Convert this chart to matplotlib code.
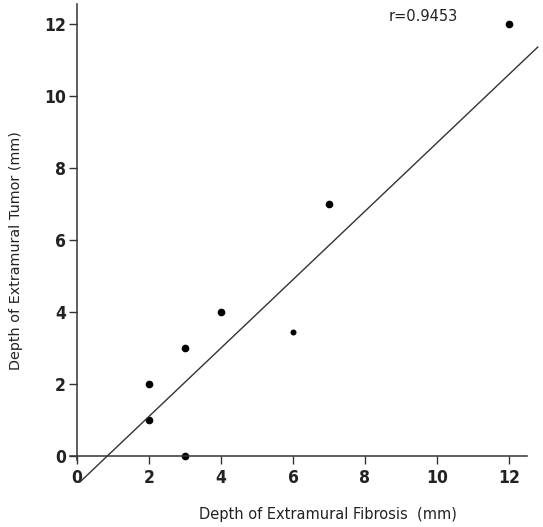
import numpy as np
import matplotlib
matplotlib.use("Agg")
import matplotlib.pyplot as plt
from matplotlib import font_manager

# data
fibrosis = [2, 2, 3, 3, 4, 7, 12]
tumor = [2, 1, 3, 0, 4, 7, 12]
# one point drawn smaller
fibrosis_small = [6]
tumor_small = [3.45]
# fitted line as drawn
fit_slope = 0.95
fit_intercept = -0.8
fit_x_range = [0.08, 12.8]
r_text = "r=0.9453"
ticks = [0, 2, 4, 6, 8, 10, 12]

names = {f.name for f in font_manager.fontManager.ttflist}

fig = plt.figure(figsize=(5.43, 5.27), dpi=100)
W, H = 543, 527
px = 36.0  # pixels per data unit
x0, y0 = 77, 456  # pixel position of data origin
xlim = (-0.3, 12.9)
ylim = (-0.9, 12.6)
left = (x0 + px * xlim[0]) / W
width = px * (xlim[1] - xlim[0]) / W
bottom = (H - (y0 - px * ylim[0])) / H
height = px * (ylim[1] - ylim[0]) / H
ax = fig.add_axes([left, bottom, width, height])
ax.set_xlim(*xlim)
ax.set_ylim(*ylim)

ax.plot(fibrosis, tumor, 'o', color='black', markersize=4.5)
ax.plot(fibrosis_small, tumor_small, 'o', color='black', markersize=3.3)

fx = np.array(fit_x_range)
ax.plot(fx, fit_slope * fx + fit_intercept, color='#333333', linewidth=1.0)

ax.text(8.67, 12.2, r_text, fontsize=10.5, va='center', ha='left',
        family='DejaVu Sans', color='#222222')

for s in ['top', 'right']:
    ax.spines[s].set_visible(False)
ax.spines['left'].set_position(('data', 0))
ax.spines['bottom'].set_position(('data', 0))
ax.spines['left'].set_bounds(-0.1, 12.55)
ax.spines['bottom'].set_bounds(-0.2, 12.5)
for s in ['left', 'bottom']:
    ax.spines[s].set_linewidth(1.1)
    ax.spines[s].set_color('#333333')

if 'Liberation Sans Narrow' in names:
    tick_font = dict(family='Liberation Sans Narrow', fontweight='bold')
else:
    tick_font = dict(family='DejaVu Sans', stretch='condensed', fontweight='bold')
ax.set_xticks(ticks)
ax.set_yticks(ticks)
ax.set_xticklabels([str(t) for t in ticks], fontsize=12.5, **tick_font)
ax.set_yticklabels([str(t) for t in ticks], fontsize=12.5, **tick_font)
ax.tick_params(axis='both', direction='out', length=5.5, width=1.0,
               color='#333333', labelcolor='#222222')
ax.tick_params(axis='x', pad=4)
ax.tick_params(axis='y', pad=2.5)

fig.text(328 / W, 1 - 514 / H, "Depth of Extramural Fibrosis  (mm)",
         ha='center', va='center', fontsize=10.5, color='#222222')
fig.text(16 / W, 1 - 251 / H, "Depth of Extramural Tumor (mm)",
         ha='center', va='center', rotation=90, fontsize=10.4, color='#222222')

fig.savefig("out.png", dpi=100)
